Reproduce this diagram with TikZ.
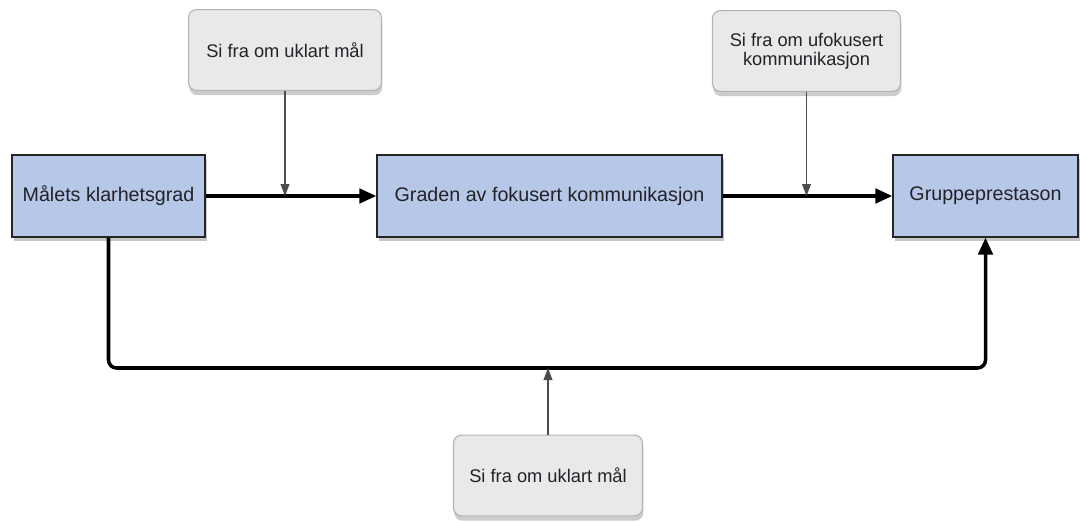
\documentclass[tikz,border=0pt]{standalone}
\usepackage{fontspec}
\setmainfont{Liberation Sans}
\usetikzlibrary{arrows.meta,shadows}

\definecolor{factorblue}{RGB}{182,199,232}
\definecolor{notegray}{RGB}{233,233,233}
\definecolor{noteedge}{RGB}{180,180,180}
\definecolor{textdark}{RGB}{34,34,40}

\tikzset{
  factor/.style={draw=black!85, line width=1pt, fill=factorblue, text=textdark,
    minimum height=2.05cm, font=\fontsize{14}{16}\selectfont,
    drop shadow={shadow xshift=0.04cm, shadow yshift=-0.1cm, opacity=0.45}},
  note/.style={draw=noteedge, line width=0.8pt, fill=notegray, rounded corners=0.2cm,
    text=textdark, minimum height=2.02cm, align=center,
    font=\fontsize{13}{13.6}\selectfont,
    drop shadow={shadow xshift=0.02cm, shadow yshift=-0.12cm, opacity=0.4}},
  mainflow/.style={line width=2.5pt, -{Triangle[length=0.42cm, width=0.36cm]}},
  signal/.style={line width=1pt, draw=black!70, -{Triangle[length=0.3cm, width=0.22cm]}}
}

\begin{document}
\begin{tikzpicture}[x=0.025cm, y=-0.025cm]
  \useasboundingbox (0, 0) rectangle (1080, 521);

  % factors
  \node[factor, minimum width=4.825cm] (maal) at (108.5, 196) {Målets klarhetsgrad};
  \node[factor, minimum width=8.625cm] (graden) at (549.5, 196) {Graden av fokusert kommunikasjon};
  \node[factor, minimum width=4.625cm] (gruppe) at (985.5, 196) {Gruppeprestason};

  % notes
  \node[note, minimum width=4.825cm] (uklart) at (285, 50) {Si fra om uklart mål};
  \node[note, minimum width=4.7cm] (ufokus) at (806.5, 51) {Si fra om ufokusert\\kommunikasjon};
  \node[note, minimum width=4.725cm] (uklartned) at (548, 475.5) {Si fra om uklart mål};

  % main flow
  \draw[mainflow] (maal) -- (graden);
  \draw[mainflow] (graden) -- (gruppe);
  \coordinate (bus) at (548, 368);
  \draw[mainflow, rounded corners=0.2cm] (maal.south) |- (bus) -| (gruppe.south);

  % signals
  \draw[signal] (uklart.south) -- (uklart.south |- maal.east);
  \draw[signal] (ufokus.south) -- (ufokus.south |- graden.east);
  \draw[signal] (uklartned.north) -- (uklartned.north |- bus);
\end{tikzpicture}
\end{document}
